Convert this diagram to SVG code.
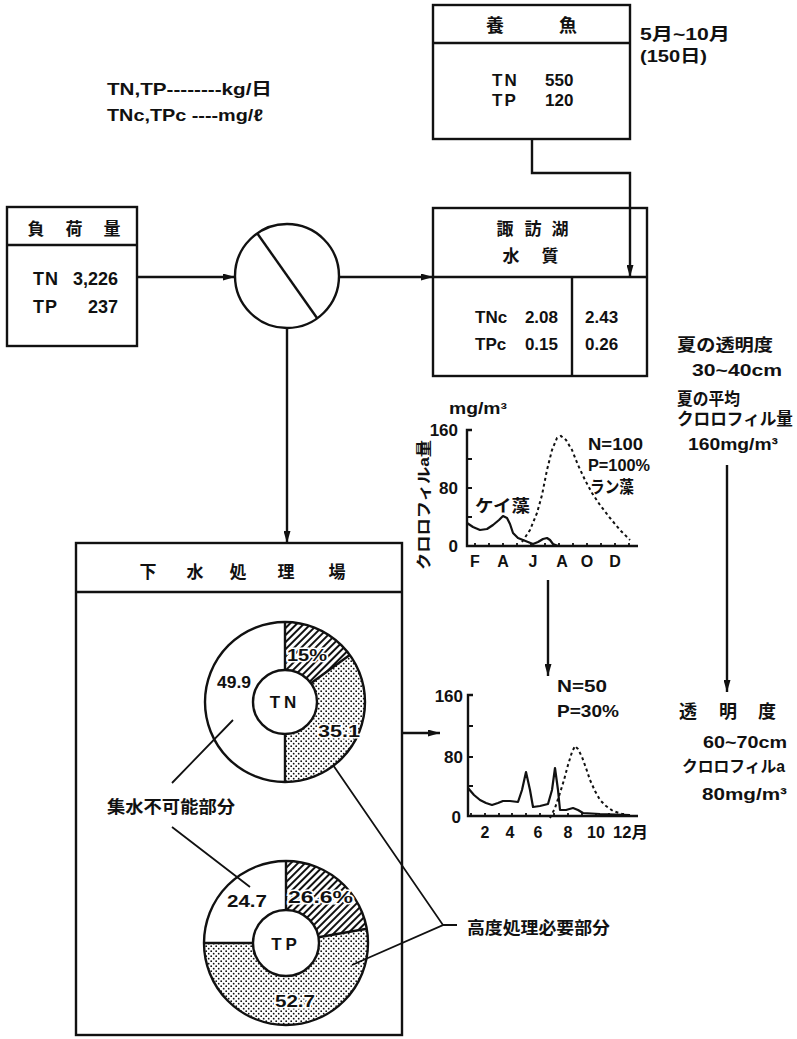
<svg xmlns="http://www.w3.org/2000/svg" width="797" height="1039" viewBox="0 0 797 1039">
<style>
.ln{stroke:#111;stroke-width:2.4;fill:none}
.th{stroke:#111;stroke-width:1.8;fill:none}
.box{stroke:#111;stroke-width:2.4;fill:#fff}
.t{font-family:"Liberation Sans","Noto Sans CJK JP",sans-serif;font-weight:bold;fill:#111}
.j{font-family:"Noto Sans CJK JP","Liberation Sans",sans-serif;font-weight:bold;fill:#111}
.halo{paint-order:stroke;stroke:#fff;stroke-width:3}
.dash{stroke:#111;stroke-width:2;fill:none;stroke-dasharray:3,3}
.crv{stroke:#111;stroke-width:2.2;fill:none;stroke-linejoin:round}
</style>
<defs>
<marker id="ar" markerWidth="12" markerHeight="7" refX="12" refY="3.5" orient="auto" markerUnits="userSpaceOnUse">
<path d="M0,0 L12,3.5 L0,7 z" fill="#111"/>
</marker>
<pattern id="hatch" width="5" height="5" patternUnits="userSpaceOnUse" patternTransform="rotate(45)">
<rect width="5" height="5" fill="#fff"/>
<line x1="1" y1="0" x2="1" y2="5" stroke="#111" stroke-width="2"/>
</pattern>
<pattern id="dots" width="5" height="5" patternUnits="userSpaceOnUse">
<rect width="5" height="5" fill="#fff"/>
<circle cx="1.2" cy="1.2" r="0.9" fill="#111"/>
<circle cx="3.7" cy="3.7" r="0.9" fill="#111"/>
</pattern>
</defs>
<rect width="797" height="1039" fill="#fff"/>

<g id="legend">
<text class="t" x="107" y="95" font-size="17" textLength="165" lengthAdjust="spacingAndGlyphs">TN,TP--------kg/日</text>
<text class="t" x="107" y="121" font-size="17" textLength="156" lengthAdjust="spacingAndGlyphs">TNc,TPc ----mg/ℓ</text>
</g>

<g id="fish">
<rect class="box" x="433" y="5" width="197" height="134"/>
<line class="ln" x1="433" y1="43" x2="630" y2="43"/>
<text class="j" x="495" y="32" font-size="18" text-anchor="middle">養</text>
<text class="j" x="568" y="32" font-size="18" text-anchor="middle">魚</text>
<text class="t" x="492" y="86" font-size="17" letter-spacing="2">TN</text>
<text class="t" x="545" y="86" font-size="17">550</text>
<text class="t" x="492" y="106" font-size="17" letter-spacing="2">TP</text>
<text class="t" x="545" y="106" font-size="17">120</text>
<text class="t" x="640" y="40" font-size="17" textLength="90" lengthAdjust="spacingAndGlyphs">5月~10月</text>
<text class="t" x="640" y="62" font-size="17" textLength="67" lengthAdjust="spacingAndGlyphs">(150日)</text>
</g>

<g id="load">
<rect class="box" x="7" y="207" width="130" height="139"/>
<line class="ln" x1="7" y1="245" x2="137" y2="245"/>
<text class="j" x="36" y="235" font-size="17" text-anchor="middle">負</text>
<text class="j" x="74" y="235" font-size="17" text-anchor="middle">荷</text>
<text class="j" x="112" y="235" font-size="17" text-anchor="middle">量</text>
<text class="t" x="33" y="285" font-size="18" letter-spacing="1">TN</text>
<text class="t" x="118" y="285" font-size="18" text-anchor="end">3,226</text>
<text class="t" x="33" y="313" font-size="18" letter-spacing="1">TP</text>
<text class="t" x="118" y="313" font-size="18" text-anchor="end">237</text>
</g>

<g id="splitter">
<circle class="box" cx="287" cy="276" r="52"/>
<line class="ln" x1="257" y1="233" x2="317" y2="318"/>
</g>

<g id="lake">
<rect class="box" x="433" y="208" width="214" height="168"/>
<line class="ln" x1="433" y1="277" x2="647" y2="277"/>
<line class="ln" x1="572" y1="277" x2="572" y2="376"/>
<text class="j" x="505" y="235" font-size="17" text-anchor="middle">諏</text>
<text class="j" x="533" y="235" font-size="17" text-anchor="middle">訪</text>
<text class="j" x="560" y="235" font-size="17" text-anchor="middle">湖</text>
<text class="j" x="511" y="262" font-size="17" text-anchor="middle">水</text>
<text class="j" x="550" y="262" font-size="17" text-anchor="middle">質</text>
<text class="t" x="475" y="323" font-size="17">TNc</text>
<text class="t" x="558" y="323" font-size="17" text-anchor="end">2.08</text>
<text class="t" x="475" y="350" font-size="17">TPc</text>
<text class="t" x="558" y="350" font-size="17" text-anchor="end">0.15</text>
<text class="t" x="585" y="323" font-size="17">2.43</text>
<text class="t" x="585" y="350" font-size="17">0.26</text>
</g>

<g id="summer-notes">
<text class="t" x="677" y="351" font-size="17" textLength="96" lengthAdjust="spacingAndGlyphs">夏の透明度</text>
<text class="t" x="692" y="376" font-size="17" textLength="90" lengthAdjust="spacingAndGlyphs">30~40cm</text>
<text class="t" x="677" y="405" font-size="17" textLength="63" lengthAdjust="spacingAndGlyphs">夏の平均</text>
<text class="t" x="677" y="425" font-size="17" textLength="116" lengthAdjust="spacingAndGlyphs">クロロフィル量</text>
<text class="t" x="688" y="450" font-size="17" textLength="90" lengthAdjust="spacingAndGlyphs">160mg/m³</text>
</g>

<g id="after-notes">
<text class="j" x="688" y="718" font-size="18" text-anchor="middle">透</text>
<text class="j" x="728" y="718" font-size="18" text-anchor="middle">明</text>
<text class="j" x="767" y="718" font-size="18" text-anchor="middle">度</text>
<text class="t" x="703" y="748" font-size="17" textLength="84" lengthAdjust="spacingAndGlyphs">60~70cm</text>
<text class="t" x="682" y="772" font-size="16" textLength="103" lengthAdjust="spacingAndGlyphs">クロロフィルa</text>
<text class="t" x="702" y="800" font-size="17" textLength="85" lengthAdjust="spacingAndGlyphs">80mg/m³</text>
</g>

<g id="chart1">
<path class="ln" d="M472,430 H467 V546 H638"/>
<path class="th" d="M467,459 h5 M467,488 h5 M467,517 h5"/>
<path class="th" d="M475,546 v-3 M489,546 v-3 M503,546 v-3 M517,546 v-3 M531,546 v-3 M545,546 v-3 M559,546 v-3 M573,546 v-3 M587,546 v-3 M601,546 v-3 M615,546 v-3 M629,546 v-3"/>
<polyline class="crv" points="467,523 473,527 480,530 487,529 493,525 499,520 503,516 507,518 510,524 513,533 518,538 523,540 528,542 533,544 538,542 543,539 547,538 550,540 553,544 558,546"/>
<polyline class="dash" points="522,542 530,530 537,513 542,495 547,470 552,450 557,438 561,436 566,440 572,450 578,465 585,480 592,493 600,505 610,518 620,530 630,540"/>
<text class="t" x="449" y="414" font-size="16" textLength="58" lengthAdjust="spacingAndGlyphs">mg/m³</text>
<text class="t" x="458" y="436" font-size="17" text-anchor="end">160</text>
<text class="t" x="458" y="494" font-size="17" text-anchor="end">80</text>
<text class="t" x="458" y="552" font-size="17" text-anchor="end">0</text>
<text class="t" x="475" y="567" font-size="16" text-anchor="middle">F</text>
<text class="t" x="503" y="567" font-size="16" text-anchor="middle">A</text>
<text class="t" x="533" y="567" font-size="16" text-anchor="middle">J</text>
<text class="t" x="562" y="567" font-size="16" text-anchor="middle">A</text>
<text class="t" x="587" y="567" font-size="16" text-anchor="middle">O</text>
<text class="t" x="615" y="567" font-size="16" text-anchor="middle">D</text>
<text class="t" x="475" y="512" font-size="17" textLength="55" lengthAdjust="spacingAndGlyphs">ケイ藻</text>
<text class="t" x="588" y="450" font-size="17" textLength="55" lengthAdjust="spacingAndGlyphs">N=100</text>
<text class="t" x="588" y="471" font-size="17" textLength="62" lengthAdjust="spacingAndGlyphs">P=100%</text>
<text class="t" x="590" y="493" font-size="17" textLength="44" lengthAdjust="spacingAndGlyphs">ラン藻</text>
<text class="t" x="0" y="0" font-size="15" text-anchor="middle" textLength="130" lengthAdjust="spacingAndGlyphs" transform="translate(429,505) rotate(-90)">クロロフィルa量</text>
</g>

<g id="chart2">
<path class="ln" d="M473,695 H468 V816 H638"/>
<path class="th" d="M468,726 h5 M468,757 h5 M468,786 h5"/>
<path class="th" d="M471,816 v-3 M485,816 v-3 M499,816 v-3 M512,816 v-3 M526,816 v-3 M540,816 v-3 M554,816 v-3 M568,816 v-3 M582,816 v-3 M596,816 v-3 M609,816 v-3 M623,816 v-3"/>
<polyline class="crv" points="468,788 474,795 480,800 486,803 492,805 498,803 503,801 510,801 518,802 522,790 526,772 530,790 533,807 540,806 548,804 552,790 555,768 558,790 560,810 566,810 573,808 578,810 583,813 600,814 630,815"/>
<polyline class="dash" points="550,818 555,808 560,793 564,780 568,765 572,752 575,746 578,749 582,757 586,768 590,780 595,791 600,800 606,806 613,811 622,814 633,816"/>
<text class="t" x="463" y="702" font-size="17" text-anchor="end">160</text>
<text class="t" x="463" y="763" font-size="17" text-anchor="end">80</text>
<text class="t" x="461" y="823" font-size="17" text-anchor="end">0</text>
<text class="t" x="485" y="838" font-size="16" text-anchor="middle">2</text>
<text class="t" x="510" y="838" font-size="16" text-anchor="middle">4</text>
<text class="t" x="538" y="838" font-size="16" text-anchor="middle">6</text>
<text class="t" x="568" y="838" font-size="16" text-anchor="middle">8</text>
<text class="t" x="596" y="838" font-size="16" text-anchor="middle">10</text>
<text class="t" x="613" y="838" font-size="16" textLength="35" lengthAdjust="spacingAndGlyphs">12月</text>
<text class="t" x="557" y="692" font-size="17" textLength="50" lengthAdjust="spacingAndGlyphs">N=50</text>
<text class="t" x="557" y="717" font-size="17" textLength="62" lengthAdjust="spacingAndGlyphs">P=30%</text>
</g>

<g id="sewage">
<rect class="box" x="76" y="543" width="326" height="492"/>
<line class="ln" x1="76" y1="592" x2="402" y2="592"/>
<text class="j" x="148" y="578" font-size="17" text-anchor="middle">下</text>
<text class="j" x="195" y="578" font-size="17" text-anchor="middle">水</text>
<text class="j" x="238" y="578" font-size="17" text-anchor="middle">処</text>
<text class="j" x="286" y="578" font-size="17" text-anchor="middle">理</text>
<text class="j" x="337" y="578" font-size="17" text-anchor="middle">場</text>
</g>

<g id="tn-donut">
<circle cx="285" cy="702" r="80" fill="#fff"/>
<path d="M285,622 A80,80 0 0 1 349.7,655 L310.9,683.2 A32,32 0 0 0 285,670 Z" fill="url(#hatch)"/>
<path d="M349.7,655 A80,80 0 0 1 285,782 L285,734 A32,32 0 0 0 310.9,683.2 Z" fill="url(#dots)"/>
<circle class="ln" cx="285" cy="702" r="80"/>
<circle class="ln" cx="285" cy="702" r="32" fill="#fff"/>
<path class="ln" d="M285,622 V670 M349.7,655 L310.9,683.2 M285,734 V782"/>
<text class="t halo" x="287" y="661" font-size="17" textLength="40" lengthAdjust="spacingAndGlyphs">15%</text>
<text class="t" x="217" y="688" font-size="17" textLength="34" lengthAdjust="spacingAndGlyphs">49.9</text>
<text class="t" x="285" y="708" font-size="17" text-anchor="middle" letter-spacing="4">TN</text>
<text class="t halo" x="318" y="737" font-size="17" textLength="42" lengthAdjust="spacingAndGlyphs">35.1</text>
</g>

<g id="tp-donut">
<circle cx="286" cy="943" r="82" fill="#fff"/>
<path d="M286,861 A82,82 0 0 1 366.8,928.8 L318.5,937.3 A33,33 0 0 0 286,910 Z" fill="url(#hatch)"/>
<path d="M366.8,928.8 A82,82 0 1 1 204,943 L253,943 A33,33 0 1 0 318.5,937.3 Z" fill="url(#dots)"/>
<circle class="ln" cx="286" cy="943" r="82"/>
<circle class="ln" cx="286" cy="943" r="33" fill="#fff"/>
<path class="ln" d="M286,861 V910 M366.8,928.8 L318.5,937.3 M204,943 H253"/>
<text class="t" x="227" y="907" font-size="17" textLength="40" lengthAdjust="spacingAndGlyphs">24.7</text>
<text class="t halo" x="288" y="903" font-size="17" textLength="65" lengthAdjust="spacingAndGlyphs">26.6%</text>
<text class="t" x="286" y="950" font-size="17" text-anchor="middle" letter-spacing="4">TP</text>
<text class="t halo" x="275" y="1007" font-size="17" textLength="40" lengthAdjust="spacingAndGlyphs">52.7</text>
</g>

<g id="labels">
<path class="th" d="M172,783 L233,720 M172,827 L250,887"/>
<text class="j" x="107" y="813" font-size="17" textLength="128" lengthAdjust="spacingAndGlyphs">集水不可能部分</text>
<path class="th" d="M333,765 L443,925 L352,965 M443,925 H457"/>
<text class="j" x="467" y="934" font-size="17" textLength="143" lengthAdjust="spacingAndGlyphs">高度処理必要部分</text>
</g>

<g id="connectors">
<line class="ln" x1="137" y1="277" x2="235" y2="277" marker-end="url(#ar)"/>
<line class="ln" x1="339" y1="277" x2="433" y2="277" marker-end="url(#ar)"/>
<line class="ln" x1="287" y1="328" x2="287" y2="543" marker-end="url(#ar)"/>
<path class="ln" d="M532,139 V173 H630 V277" marker-end="url(#ar)"/>
<line class="ln" x1="402" y1="733" x2="440" y2="733" marker-end="url(#ar)"/>
<line class="ln" x1="548" y1="580" x2="548" y2="676" marker-end="url(#ar)"/>
<line class="ln" x1="727" y1="465" x2="727" y2="692" marker-end="url(#ar)"/>
</g>
</svg>
